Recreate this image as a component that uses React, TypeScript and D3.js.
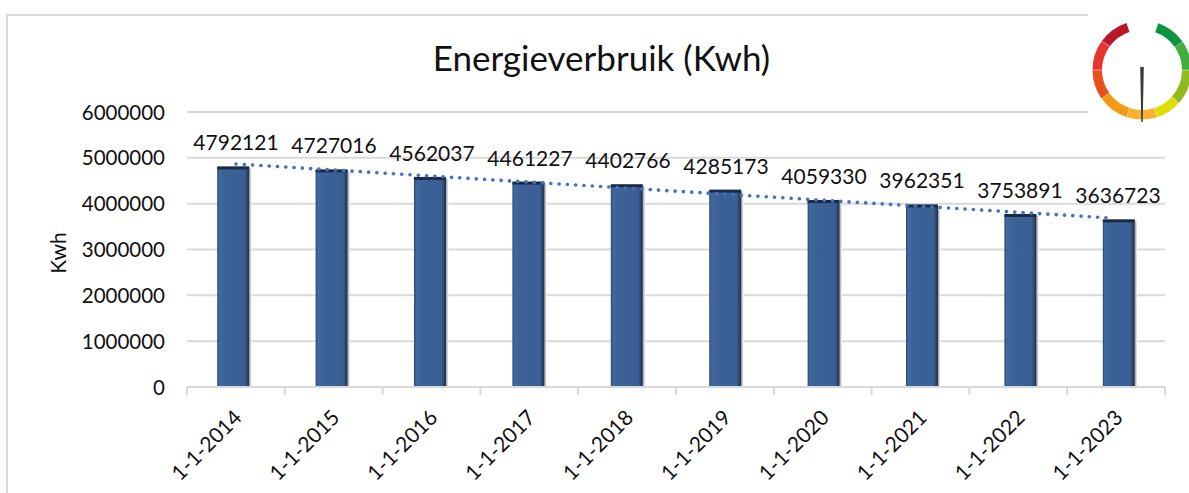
import React from "react";
import * as d3 from "d3";

const categories = ["1-1-2014","1-1-2015","1-1-2016","1-1-2017","1-1-2018","1-1-2019","1-1-2020","1-1-2021","1-1-2022","1-1-2023"];
const energy = [4792121,4727016,4562037,4461227,4402766,4285173,4059330,3962351,3753891,3636723];
const yTicks = [0,1000000,2000000,3000000,4000000,5000000,6000000];
const trendEnds = [4866000,3688000];
const gaugeBounds = [19,55,90,132,162,198,235,270,306,342];
const gaugeColors = ["#0c9440","#3fae3a","#8fbc1e","#e0dc00","#f8b133","#f39a12","#e8501f","#e8352e","#b8142a"];
const font = "Lato, Carlito, sans-serif";

export default function App() {
  const W = 1189, H = 493;
  const y = d3.scaleLinear().domain([0,6000000]).range([387,112]);
  const x = d3.scaleBand<string>().domain(categories).range([184,1168]).paddingInner(0.675).paddingOuter(0.3375);
  const tickX = d3.scaleLinear().domain([0,10]).range([187,1165]);
  const labelX = d3.scaleLinear().domain([0,9]).range([236,1118]);
  const dateX = d3.scaleLinear().domain([0,9]).range([243,1124]);
  const trendX = [236,1110];
  const gc = {x:1142,y:70};
  const arc = d3.arc<any>().innerRadius(40).outerRadius(49.5).padAngle(0.006);
  const deg = (d:number)=>d*Math.PI/180;
  return (
    <svg width={W} height={H} style={{position:"absolute",left:0,top:0,background:"#fff"}} fontFamily={font}>
      <defs>
        <linearGradient id="bar" x1="0" x2="1" y1="0" y2="0">
          <stop offset="0" stopColor="#2f4666"/><stop offset="0.07" stopColor="#3f6aa6"/>
          <stop offset="0.2" stopColor="#3c6298"/><stop offset="0.86" stopColor="#3a5f94"/>
          <stop offset="1" stopColor="#1f2f48"/>
        </linearGradient>
        <linearGradient id="shade" x1="0" x2="1" y1="0" y2="0">
          <stop offset="0" stopColor="#999"/><stop offset="1" stopColor="#fff"/>
        </linearGradient>
        <filter id="soft" x="-5%" y="-5%" width="110%" height="110%"><feGaussianBlur stdDeviation="0.5"/></filter>
      </defs>
      <rect x={6} y={14} width={1084} height={2} fill="#d9d9d9"/>
      <rect x={6} y={14} width={2} height={479} fill="#d9d9d9"/>
      <text x={601.5} y={71} fontSize={35} textAnchor="middle" fill="#111">Energieverbruik (Kwh)</text>
      {yTicks.map(t=>(
        <g key={t}>
          {t>0 && <line x1={187} x2={1165} y1={y(t)} y2={y(t)} stroke="#d9d9d9" strokeWidth={2}/>}
          <text x={165} y={y(t)+7.5} textAnchor="end" fontSize={20.5} fill="#111">{t}</text>
        </g>
      ))}
      <text transform="translate(66,253) rotate(-90)" textAnchor="middle" fontSize={21} fill="#111">Kwh</text>
      {categories.map((c,i)=>(
        <g key={c}>
          <rect x={(x(c) as number)+x.bandwidth()} y={y(energy[i])+1} width={2.5} height={387-y(energy[i])-1} fill="url(#shade)"/>
          <rect x={x(c)} y={y(energy[i])} width={x.bandwidth()} height={387-y(energy[i])} fill="url(#bar)"/>
          <rect x={x(c)} y={y(energy[i])-1} width={x.bandwidth()} height={3} fill="#1b2a42"/>
          <text x={labelX(i)} y={y(energy[i])-17} textAnchor="middle" fontSize={21} fill="#111">{energy[i]}</text>
        </g>
      ))}
      <line x1={187} x2={1165} y1={387} y2={387} stroke="#d9d9d9" strokeWidth={2}/>
      {d3.range(11).map(i=>(
        <line key={i} x1={tickX(i)} x2={tickX(i)} y1={387} y2={395} stroke="#d9d9d9" strokeWidth={2}/>
      ))}
      <line x1={trendX[0]} x2={trendX[1]} y1={y(trendEnds[0])} y2={y(trendEnds[1])} stroke="#4472c4" strokeWidth={3.6} strokeLinecap="round" strokeDasharray="0.1 8.2"/>
      {categories.map((c,i)=>(
        <text key={c} transform={`translate(${dateX(i)},${419}) rotate(-45)`} textAnchor="end" fontSize={21} fill="#111">{c}</text>
      ))}
      <rect x={1088} y={0} width={101} height={125} fill="#fff"/>
      <g transform={`translate(${gc.x},${gc.y})`} filter="url(#soft)">
        {gaugeColors.map((c,i)=>(
          <path key={c} d={arc({startAngle:deg(gaugeBounds[i]),endAngle:deg(gaugeBounds[i+1])}) as string} fill={c}/>
        ))}
        <path d="M-1.8,-3 L1.8,-3 L0.7,52 L-0.7,52 Z" fill="#3a3a3a"/>
      </g>
    </svg>
  );
}
